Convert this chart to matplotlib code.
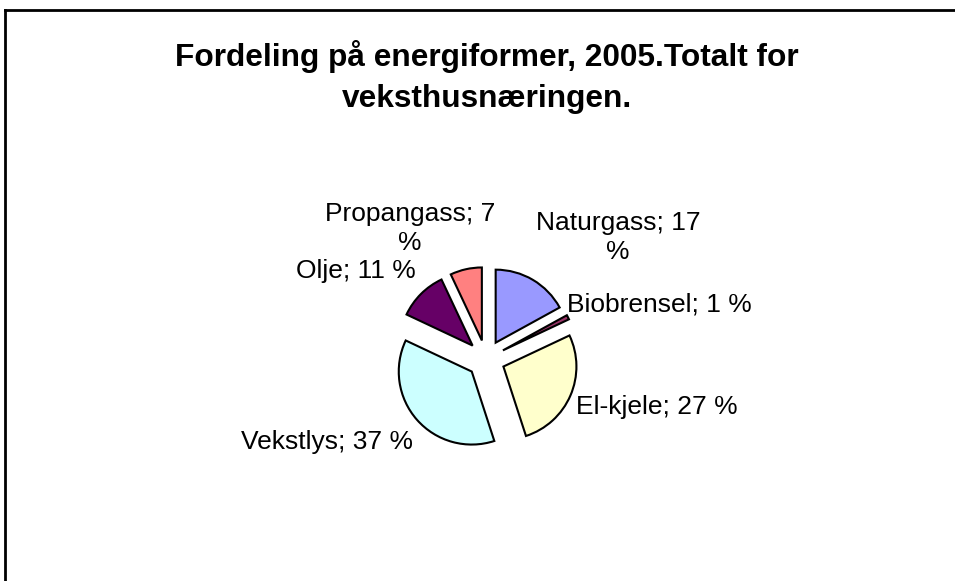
import matplotlib
matplotlib.use("Agg")
import matplotlib.pyplot as plt
from matplotlib.lines import Line2D

plt.rcParams['font.family'] = ['Liberation Sans', 'DejaVu Sans']

# data, clockwise from 12 o'clock
categories = ["Naturgass", "Biobrensel", "El-kjele", "Vekstlys", "Olje", "Propangass"]
shares = [17, 1, 27, 37, 11, 7]
colors = ["#9999FF", "#993366", "#FFFFCC", "#CCFFFF", "#660066", "#FF8080"]
title = "Fordeling på energiformer, 2005.Totalt for\nveksthusnæringen."

# label placement (data units, pie radius = 1) and which labels wrap
label_pos = [(1.81, 1.66), (2.38, 0.74), (2.34, -0.66), (-2.18, -1.14), (-1.78, 1.20), (-1.04, 1.79)]
wrapped = [True, False, False, False, False, True]

W, H = 955, 581
cx, cy, r_px = 486, 359, 73   # pie centre and radius in pixels

fig = plt.figure(figsize=(W / 100, H / 100), dpi=100)
ax = fig.add_axes([0, 0, 1, 1])
ax.pie(shares, colors=colors, startangle=90, counterclock=False,
       explode=[0.26] * len(shares),
       wedgeprops=dict(edgecolor="black", linewidth=1.5))
ax.set_xlim(-cx / r_px, (W - cx) / r_px)
ax.set_ylim(-(H - cy) / r_px, cy / r_px)
ax.axis("off")

for name, val, (x, y), w in zip(categories, shares, label_pos, wrapped):
    txt = f"{name}; {val} %"
    if w:
        txt = txt[::-1].replace(" ", "\n", 1)[::-1]
    ax.text(x, y, txt, ha="center", va="center", fontsize=19, linespacing=1.25)

fig.text(487 / W, 1 - 77 / H, title, ha="center", va="center",
         fontsize=22.8, fontweight="bold", linespacing=1.45)

# chart-area frame (only top and left visible in the crop)
fig.add_artist(Line2D([5 / W, 5 / W], [0, 1 - 10 / H], color="black", lw=2))
fig.add_artist(Line2D([5 / W, 1], [1 - 10 / H, 1 - 10 / H], color="black", lw=2))

fig.savefig("out.png", dpi=100)
